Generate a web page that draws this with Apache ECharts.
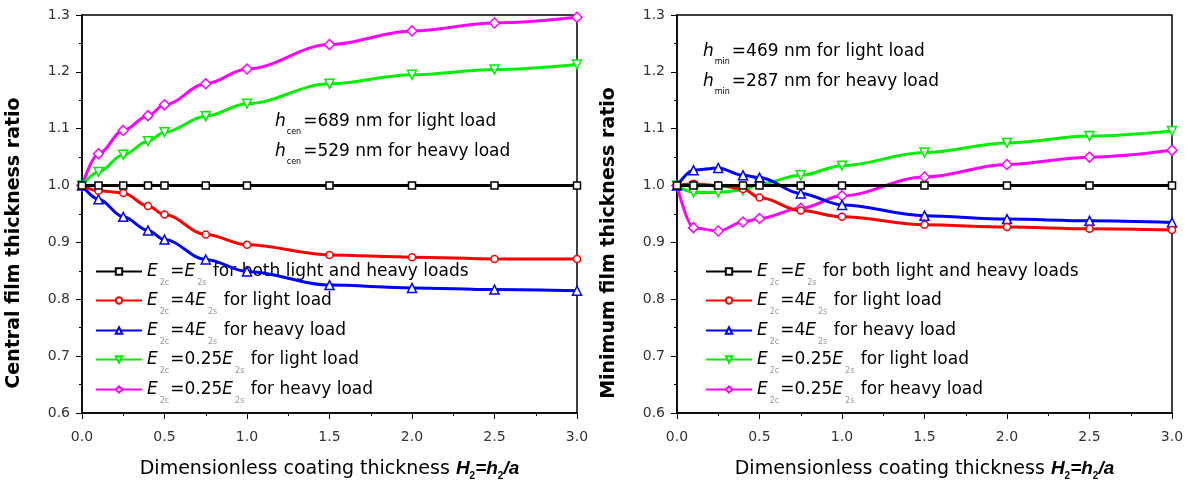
<!DOCTYPE html>
<html>
<head>
<meta charset="utf-8">
<script src="https://cdn.jsdelivr.net/npm/echarts@6/dist/echarts.min.js"></script>
<style>
  html, body { margin: 0; padding: 0; background: #fff; }
  #chart { width: 1188px; height: 489px; }
</style>
</head>
<body>
<div id="chart"></div>
<script>
// thickness H2 = h2/a where the markers sit
var xValues = [0, 0.1, 0.25, 0.4, 0.5, 0.75, 1.0, 1.5, 2.0, 2.5, 3.0];

// central film thickness ratio (left)
var cenEqual    = [1.0, 1.0, 1.0, 1.0, 1.0, 1.0, 1.0, 1.0, 1.0, 1.0, 1.0];
var cen4Light   = [1.0, 0.991, 0.987, 0.964, 0.949, 0.914, 0.896, 0.878, 0.874, 0.871, 0.871];
var cen4Heavy   = [1.0, 0.976, 0.945, 0.921, 0.905, 0.870, 0.849, 0.825, 0.820, 0.817, 0.815];
var cenQLight   = [1.0, 1.024, 1.054, 1.078, 1.094, 1.122, 1.144, 1.179, 1.195, 1.204, 1.213];
var cenQHeavy   = [1.0, 1.056, 1.097, 1.123, 1.142, 1.179, 1.205, 1.248, 1.272, 1.286, 1.296];

// minimum film thickness ratio (right)
var minEqual    = [1.0, 1.0, 1.0, 1.0, 1.0, 1.0, 1.0, 1.0, 1.0, 1.0, 1.0];
var min4Light   = [1.0, 1.003, 1.0, 0.994, 0.979, 0.956, 0.945, 0.931, 0.927, 0.924, 0.922];
var min4Heavy   = [1.0, 1.027, 1.031, 1.018, 1.014, 0.986, 0.966, 0.947, 0.941, 0.938, 0.935];
var minQLight   = [1.0, 0.988, 0.988, 0.992, 1.003, 1.018, 1.035, 1.058, 1.075, 1.087, 1.096];
var minQHeavy   = [1.0, 0.926, 0.920, 0.936, 0.942, 0.960, 0.982, 1.015, 1.037, 1.050, 1.062];

var legendLabels = [
  '{i|E}{s|2c}{t|=}{i|E}{s|2s}{t| for both light and heavy loads}',
  '{i|E}{s|2c}{t|=4}{i|E}{s|2s}{t| for light load}',
  '{i|E}{s|2c}{t|=4}{i|E}{s|2s}{t| for heavy load}',
  '{i|E}{s|2c}{t|=0.25}{i|E}{s|2s}{t| for light load}',
  '{i|E}{s|2c}{t|=0.25}{i|E}{s|2s}{t| for heavy load}'
];
var yTicks = [0.6, 0.7, 0.8, 0.9, 1.0, 1.1, 1.2, 1.3];

var FONT = 'DejaVu Sans, sans-serif';
var colors = ['#000000', '#ff0000', '#0000ff', '#00f000', '#ff00ff'];
var symbols = ['rect', 'circle', 'triangle', 'triangle', 'diamond'];
var rotates = [0, 0, 0, 180, 0];
var sizes = [7, 7, 9, 9, 10];

var chart = echarts.init(document.getElementById('chart'));

function pairs(ys) {
  return xValues.map(function (x, i) { return [x, ys[i]]; });
}

function makeSeries(list, idx, tag) {
  return list.map(function (ys, k) {
    return {
      name: tag + k,
      type: 'line',
      xAxisIndex: idx,
      yAxisIndex: idx,
      data: pairs(ys),
      smooth: 0.35,
      smoothMonotone: 'x',
      symbol: symbols[k],
      symbolRotate: rotates[k],
      symbolSize: sizes[k],
      showSymbol: true,
      z: 10 - k,
      lineStyle: { color: colors[k], width: 3 },
      itemStyle: { color: '#fff', borderColor: colors[k], borderWidth: 1.5 }
    };
  });
}

var legendRich = {
  i: { fontFamily: FONT, fontStyle: 'italic', fontSize: 17, color: '#000', lineHeight: 30 },
  t: { fontFamily: FONT, fontSize: 17, color: '#000', lineHeight: 30 },
  s: { fontFamily: FONT, fontSize: 8, color: '#999', lineHeight: 10, verticalAlign: 'bottom', padding: [0, 1, 0, 2] }
};

function makeLegends(tag, left) {
  var tops = [270, 299, 329, 358, 388];
  return tops.map(function (top, k) {
    return {
      data: [tag + k],
      left: left,
      top: top - 7,
      padding: 0,
      itemWidth: 46,
      itemHeight: 8,
      selectedMode: false,
      formatter: function () { return legendLabels[k]; },
      textStyle: { rich: legendRich }
    };
  });
}

function xAxisOf(idx) {
  return {
    type: 'value',
    gridIndex: idx,
    min: 0, max: 3, interval: 0.5,
    axisLine: { show: true, onZero: false, lineStyle: { color: '#000', width: 1.5 } },
    axisTick: { show: true, inside: false, length: 6, lineStyle: { color: '#000' } },
    minorTick: { show: true, splitNumber: 2, length: 3, lineStyle: { color: '#000' } },
    splitLine: { show: false },
    axisLabel: { fontFamily: FONT, fontSize: 14, color: '#333', margin: 17,
      formatter: function (v) { return v.toFixed(1); } },
    name: '{t|Dimensionless coating thickness }{b|H}{u|2}{b|=h}{u|2}{b|/a}',
    nameLocation: 'middle',
    nameGap: 44,
    nameTextStyle: {
      rich: {
        t: { fontFamily: FONT, fontSize: 19, color: '#000', lineHeight: 24 },
        b: { fontFamily: 'Liberation Sans', fontSize: 19, fontWeight: 'bold', fontStyle: 'italic', color: '#000', lineHeight: 24 },
        u: { fontFamily: 'Liberation Sans', fontSize: 10, fontWeight: 'bold', color: '#000', lineHeight: 10, verticalAlign: 'bottom' }
      }
    }
  };
}

function yAxisOf(idx, title) {
  return {
    type: 'value',
    gridIndex: idx,
    min: 0.6, max: 1.3, interval: 0.1,
    axisLine: { show: true, onZero: false, lineStyle: { color: '#000', width: 1.5 } },
    axisTick: { show: true, inside: false, length: 6, lineStyle: { color: '#000' } },
    minorTick: { show: true, splitNumber: 2, length: 3, lineStyle: { color: '#000' } },
    splitLine: { show: false },
    axisLabel: { fontFamily: FONT, fontSize: 14, color: '#333', margin: 12,
      customValues: yTicks,
      formatter: function (v) { return v.toFixed(1); } },
    name: title,
    nameLocation: 'middle',
    nameGap: 58,
    nameTextStyle: { fontFamily: FONT, fontSize: 19, fontWeight: 'bold', color: '#000', padding: [0, 58, 0, 0] }
  };
}

var noteRich = {
  h: { fontFamily: FONT, fontStyle: 'italic', fontSize: 17, color: '#000', lineHeight: 28 },
  s: { fontFamily: FONT, fontSize: 8, color: '#999', lineHeight: 10, verticalAlign: 'bottom', padding: [0, 2, 0, 1] },
  t: { fontFamily: FONT, fontSize: 17, color: '#000', lineHeight: 28 }
};

function note(x, y, sub, rest) {
  return {
    type: 'text',
    left: x, top: y,
    z: 20,
    style: { text: '{h|h}{s|' + sub + '}{t|' + rest + '}', rich: noteRich }
  };
}

chart.setOption({
  animation: false,
  backgroundColor: '#fff',
  grid: [
    { left: 82, top: 15, width: 495, height: 398, show: true, borderColor: '#000', borderWidth: 1.5 },
    { left: 677, top: 15, width: 495, height: 398, show: true, borderColor: '#000', borderWidth: 1.5 }
  ],
  xAxis: [xAxisOf(0), xAxisOf(1)],
  yAxis: [yAxisOf(0, 'Central film thickness ratio'), yAxisOf(1, 'Minimum film thickness ratio')],
  legend: makeLegends('c', 95).concat(makeLegends('m', 705)),
  graphic: [
    note(275, 113, 'cen', '=689 nm for light load'),
    note(275, 143, 'cen', '=529 nm for heavy load'),
    note(703, 43, 'min', '=469 nm for light load'),
    note(703, 73, 'min', '=287 nm for heavy load')
  ],
  series: makeSeries([cenEqual, cen4Light, cen4Heavy, cenQLight, cenQHeavy], 0, 'c')
    .concat(makeSeries([minEqual, min4Light, min4Heavy, minQLight, minQHeavy], 1, 'm'))
});
</script>
</body>
</html>
